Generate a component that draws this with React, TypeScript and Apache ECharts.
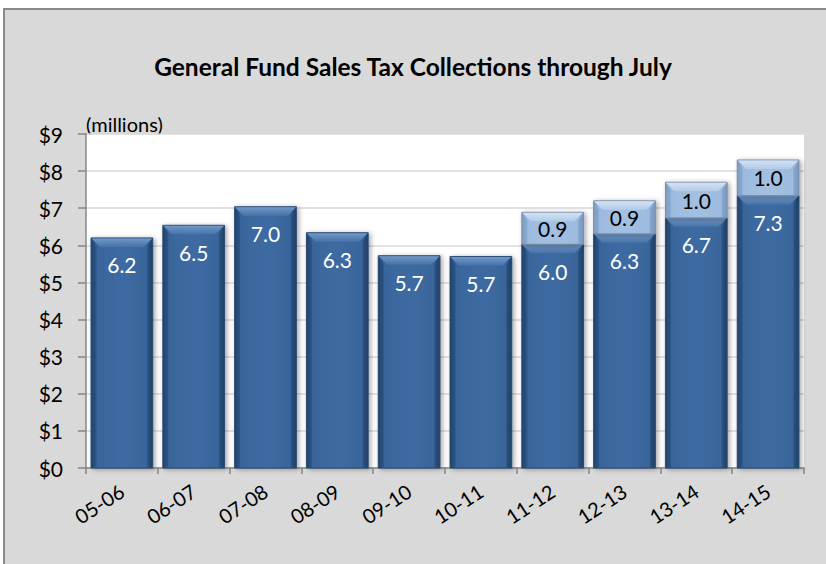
import React, { useEffect, useRef } from "react";
import * as echarts from "echarts";

const categories = ["05-06", "06-07", "07-08", "08-09", "09-10", "10-11", "11-12", "12-13", "13-14", "14-15"];
const baseValues = [6.2, 6.54, 7.04, 6.34, 5.72, 5.7, 6.03, 6.31, 6.74, 7.34];
const addedValues = [0, 0, 0, 0, 0, 0, 0.86, 0.89, 0.96, 0.96];
const yMin = 0;
const yMax = 9;
const yStep = 1;

const FONT = "Lato";

function makeRender(kind: "dark" | "light") {
  return (params: any, api: any) => {
    const i = api.value(0);
    const v0 = api.value(1);
    const v1 = api.value(2);
    const pTop = api.coord([i, v1]);
    const pBot = api.coord([i, v0]);
    const w = api.size([1, 0])[0] * 0.86;
    const x = pTop[0] - w / 2;
    const top = pTop[1];
    const h = pBot[1] - pTop[1];
    const b = Math.min(9, h / 3);
    const dark = kind === "dark";
    const bodyFill = new echarts.graphic.LinearGradient(0, 0, 1, 0, dark
      ? [
          { offset: 0, color: "#264b78" },
          { offset: 0.1, color: "#39659b" },
          { offset: 0.5, color: "#3e6ba2" },
          { offset: 0.9, color: "#39659b" },
          { offset: 1, color: "#244873" },
        ]
      : [
          { offset: 0, color: "#86a6cc" },
          { offset: 0.1, color: "#9dbbdf" },
          { offset: 0.5, color: "#a3c0e2" },
          { offset: 0.9, color: "#9dbbdf" },
          { offset: 1, color: "#83a2c8" },
        ]);
    const bevelFill = new echarts.graphic.LinearGradient(0, 0, 0, 1, dark
      ? [
          { offset: 0, color: "#7097c6" },
          { offset: 1, color: "#4673aa" },
        ]
      : [
          { offset: 0, color: "#d3e2f3" },
          { offset: 1, color: "#b2cbe8" },
        ]);
    const value = v1 - v0;
    const label = value.toFixed(1);
    const labelY = dark ? top + 27 : top + h / 2;
    return {
      type: "group",
      children: [
        {
          type: "rect",
          shape: { x, y: top, width: w, height: h },
          style: {
            fill: bodyFill,
            stroke: dark ? "#2b4c74" : "#7c8ea6",
            lineWidth: 1,
            shadowBlur: 5,
            shadowOffsetX: 2,
            shadowOffsetY: 1,
            shadowColor: "rgba(0,0,0,0.35)",
          },
        },
        {
          type: "polygon",
          shape: {
            points: [
              [x + 0.5, top + 0.5],
              [x + w - 0.5, top + 0.5],
              [x + w - b, top + b],
              [x + b, top + b],
            ],
          },
          style: { fill: bevelFill },
        },
        {
          type: "polygon",
          shape: {
            points: [
              [x + 0.5, top + 0.5],
              [x + b * 0.6, top + b],
              [x + b * 0.6, top + h - 1],
              [x + 0.5, top + h - 0.5],
            ],
          },
          style: { fill: dark ? "rgba(20,45,80,0.25)" : "rgba(80,110,150,0.18)" },
        },
        {
          type: "polygon",
          shape: {
            points: [
              [x + w - 0.5, top + 0.5],
              [x + w - b * 0.6, top + b],
              [x + w - b * 0.6, top + h - 1],
              [x + w - 0.5, top + h - 0.5],
            ],
          },
          style: { fill: dark ? "rgba(20,45,80,0.3)" : "rgba(80,110,150,0.22)" },
        },
        {
          type: "text",
          style: {
            text: label,
            x: pTop[0],
            y: labelY,
            fill: dark ? "#ffffff" : "#000000",
            fontSize: 21,
            fontFamily: FONT,
            align: "center",
            verticalAlign: "middle",
            textAlign: "center",
            textVerticalAlign: "middle",
          },
        },
      ],
    };
  };
}

export default function App() {
  const ref = useRef<HTMLDivElement>(null);
  useEffect(() => {
    if (!ref.current) return;
    const chart = echarts.init(ref.current, undefined, { renderer: "svg" });
    const darkData = categories.map((_, i) => [i, 0, baseValues[i]]);
    const lightData = categories
      .map((_, i) => [i, baseValues[i], baseValues[i] + addedValues[i]])
      .filter((d, i) => addedValues[i] > 0);
    chart.setOption({
      animation: false,
      backgroundColor: "#ffffff",
      textStyle: { fontFamily: FONT },
      title: {
        text: "General Fund Sales Tax Collections through July",
        left: "center",
        top: 49,
        textStyle: { fontSize: 24.5, fontWeight: "bold", color: "#000", fontFamily: FONT },
      },
      graphic: [
        {
          type: "rect",
          z: -10,
          shape: { x: 4, y: 9, width: 900, height: 700 },
          style: { fill: "#d9d9d9", stroke: "#8a8a8a", lineWidth: 2 },
        },
        {
          type: "text",
          x: 86,
          y: 124,
          style: {
            text: "(millions)",
            fontSize: 20,
            fontFamily: FONT,
            fill: "#000",
            verticalAlign: "middle",
          },
        },
      ],
      grid: {
        left: 86,
        right: 22,
        top: 134,
        bottom: 96,
        show: true,
        backgroundColor: "#ffffff",
        borderWidth: 0,
      },
      xAxis: {
        type: "category",
        data: categories,
        axisLine: { lineStyle: { color: "#868686", width: 1.5 } },
        axisTick: { show: true, length: 6, lineStyle: { color: "#868686", width: 1.5 } },
        axisLabel: { rotate: 33, margin: 21, fontSize: 20, color: "#000", fontFamily: FONT },
      },
      yAxis: {
        type: "value",
        min: yMin,
        max: yMax,
        interval: yStep,
        axisLine: { show: true, lineStyle: { color: "#868686", width: 1.5 } },
        axisTick: { show: true, inside: false, length: 8, lineStyle: { color: "#868686", width: 1.5 } },
        axisLabel: { formatter: (v: number) => "$" + v, margin: 23, fontSize: 21, color: "#000", fontFamily: FONT },
        splitLine: { lineStyle: { color: "#d9d9d9", width: 1.5 } },
      },
      series: [
        {
          type: "custom",
          name: "base",
          renderItem: makeRender("dark"),
          encode: { x: 0, y: [1, 2] },
          data: darkData,
          z: 2,
        },
        {
          type: "custom",
          name: "added",
          renderItem: makeRender("light"),
          encode: { x: 0, y: [1, 2] },
          data: lightData,
          z: 3,
        },
      ],
    });
    return () => chart.dispose();
  }, []);
  return <div ref={ref} style={{ position: "fixed", left: 0, top: 0, width: 826, height: 564 }} />;
}
